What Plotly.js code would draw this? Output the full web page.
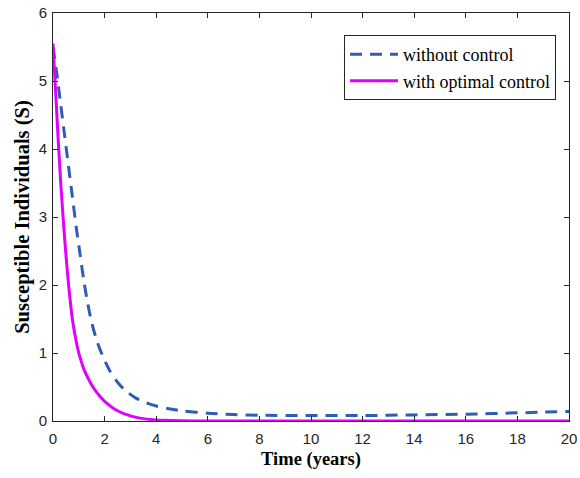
<!DOCTYPE html>
<html>
<head>
<meta charset="utf-8">
<script src="https://cdn.plot.ly/plotly-3.0.1.min.js"></script>
<style>html,body{margin:0;padding:0;background:#fff;}#chart{width:580px;height:478px;}</style>
</head>
<body>
<div id="chart"></div>
<script>
// Data
const tWithout = [0, 0.15, 0.3, 0.45, 0.6, 0.75, 0.9, 1.05, 1.2, 1.35, 1.5, 1.7, 1.9, 2.2, 2.5, 2.8, 3.2, 3.6, 4, 4.5, 5, 6, 7, 8, 10, 12, 14, 16, 18, 20];
const sWithout = [5.5, 5.1, 4.65, 4.2, 3.75, 3.3, 2.85, 2.45, 2.05, 1.72, 1.45, 1.18, 0.98, 0.74, 0.57, 0.45, 0.34, 0.27, 0.22, 0.18, 0.15, 0.115, 0.095, 0.085, 0.08, 0.08, 0.09, 0.10, 0.12, 0.14];
const tWith = [0, 0.1, 0.2, 0.3, 0.4, 0.5, 0.6, 0.75, 0.9, 1.0, 1.1, 1.2, 1.4, 1.6, 1.8, 2.0, 2.5, 3, 3.5, 4, 5, 6, 8, 10, 12, 14, 16, 18, 20];
const sWith = [5.55, 4.85, 4.15, 3.5, 2.95, 2.45, 2.02, 1.5, 1.17, 1.0, 0.87, 0.76, 0.6, 0.47, 0.37, 0.29, 0.15, 0.075, 0.035, 0.015, 0.004, 0.001, 0, 0, 0, 0, 0, 0, 0];
const seriesNames = ["without control", "with optimal control"];
const xTicks = [0, 2, 4, 6, 8, 10, 12, 14, 16, 18, 20];
const yTicks = [0, 1, 2, 3, 4, 5, 6];

const traces = [
  {x: tWithout, y: sWithout, name: seriesNames[0], mode: 'lines', line: {color: '#2f5db3', width: 3, dash: '12px,8px', shape: 'spline', smoothing: 0.8}},
  {x: tWith, y: sWith, name: seriesNames[1], mode: 'lines', line: {color: '#e000ff', width: 3, shape: 'spline', smoothing: 0.8}}
];

const serif = '"Liberation Serif", "Times New Roman", serif';
const sans = '"Liberation Sans", Arial, sans-serif';

const axisCommon = {
  showgrid: false, zeroline: false, showline: true, linecolor: '#262626', linewidth: 1,
  mirror: 'ticks', ticks: 'inside', ticklen: 5, tickcolor: '#262626',
  tickfont: {family: sans, size: 15, color: '#262626'}
};

const layout = {
  width: 580, height: 478,
  margin: {l: 53, r: 11, t: 13, b: 57},
  paper_bgcolor: '#fff', plot_bgcolor: '#fff',
  xaxis: Object.assign({}, axisCommon, {
    range: [0, 20], tickvals: xTicks, ticktext: xTicks.map(String), ticklabelstandoff: 4,
    title: {text: '<b>Time (years)</b>', font: {family: serif, size: 18.5, color: '#000'}, standoff: 6}
  }),
  yaxis: Object.assign({}, axisCommon, {
    range: [0, 6], tickvals: yTicks, ticktext: yTicks.map(String), ticklabelstandoff: 2,
    title: {text: '<b>Susceptible Individuals (S)</b>', font: {family: serif, size: 20.5, color: '#000'}, standoff: 3}
  }),
  legend: {
    x: 0.564, y: 0.946, xanchor: 'left', yanchor: 'top',
    bgcolor: '#fff', bordercolor: '#262626', borderwidth: 1,
    font: {family: serif, size: 18, color: '#000'},
    itemwidth: 48, tracegroupgap: 0
  },
  showlegend: true
};

Plotly.newPlot('chart', traces, layout, {displayModeBar: false, staticPlot: true});
</script>
</body>
</html>
